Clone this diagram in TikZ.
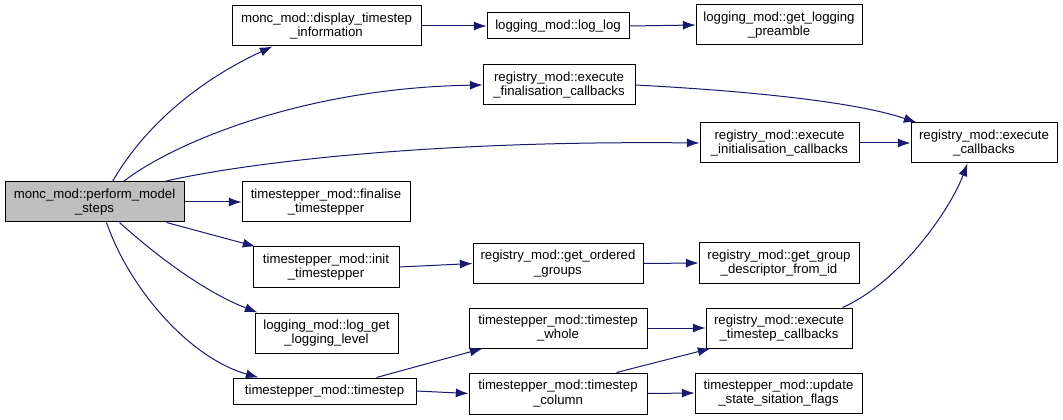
\documentclass[tikz,border=0pt]{standalone}
\usepackage{fontspec}
\setmainfont{Liberation Sans}
\usetikzlibrary{arrows.meta,calc}
\definecolor{edgeblue}{HTML}{191970}
\definecolor{boxgray}{HTML}{BFBFBF}
\tikzset{
  box/.style={draw=black, line width=0.75pt, fill=white, inner sep=0pt, align=center,
    font=\fontsize{9.9}{11}\selectfont},
  edge/.style={draw=edgeblue, line width=0.75pt, -{Latex[length=9.5pt,width=6.8pt]}}
}
\newcommand\bx[7][]{\node[box,#1, minimum width={(#4-#2)*0.75pt}, minimum height={(#5-#3)*0.75pt}] (#6) at ({(#2+#4)/2},{(#3+#5)/2}) {#7};}
\begin{document}
\begin{tikzpicture}[x=0.75pt,y=-0.75pt]
\useasboundingbox (0,0) rectangle (1063,420);
\bx[fill=boxgray]{5}{182}{184}{222}{A}{monc\_mod::perform\_model\\\_steps}
\bx{232}{6}{421}{46}{B}{monc\_mod::display\_timestep\\\_information}
\bx{487}{13}{629}{39}{C}{logging\_mod::log\_log}
\bx{696}{5}{862}{45}{D}{logging\_mod::get\_logging\\\_preamble}
\bx{483}{65}{635}{105}{E}{registry\_mod::execute\\\_finalisation\_callbacks}
\bx{700}{123}{859}{163}{F}{registry\_mod::execute\\\_initialisation\_callbacks}
\bx{911}{123}{1057}{163}{G}{registry\_mod::execute\\\_callbacks}
\bx{242}{182}{410}{222}{H}{timestepper\_mod::finalise\\\_timestepper}
\bx{253}{247}{399}{287}{I}{timestepper\_mod::init\\\_timestepper}
\bx{473}{244}{643}{283}{J}{registry\_mod::get\_ordered\\\_groups}
\bx{699}{243}{859}{283}{K}{registry\_mod::get\_group\\\_descriptor\_from\_id}
\bx{255}{313}{398}{353}{L}{logging\_mod::log\_get\\\_logging\_level}
\bx{233}{378}{416}{404}{M}{timestepper\_mod::timestep}
\bx{469}{308}{647}{348}{N}{timestepper\_mod::timestep\\\_whole}
\bx{469}{373}{647}{414}{O}{timestepper\_mod::timestep\\\_column}
\bx{706}{308}{852}{348}{P}{registry\_mod::execute\\\_timestep\_callbacks}
\bx{695}{373}{862}{413}{Q}{timestepper\_mod::update\\\_state\_sitation\_flags}
% edges from A
\draw[edge] ($(A.north west)+(108,0)$) .. controls (145,125) and (200,80) .. ($(B.south west)+(41,0)$);
\draw[edge] ($(A.north west)+(119,0)$) .. controls (170,145) and (300,88) .. (E.west);
\draw[edge] ($(A.north west)+(160,0)$) .. controls (220,168) and (400,140) .. (F.west);
\draw[edge] (A.east) -- (H.west);
\draw[edge] ($(A.south west)+(162,0)$) -- ($(I.north west)+(3,0)$);
\draw[edge] ($(A.south west)+(115,0)$) .. controls (150,250) and (200,290) .. ($(L.north west)+(3,0)$);
\draw[edge] ($(A.south west)+(102,0)$) .. controls (130,290) and (190,358) .. ($(M.north west)+(26,0)$);
% others
\draw[edge] (B.east) -- (C.west);
\draw[edge] (C.east) -- (D.west);
\draw[edge] (E.east) .. controls (730,90) and (850,100) .. ($(G.north west)+(6,0)$);
\draw[edge] (F.east) -- (G.west);
\draw[edge] (I.east) -- (J.west);
\draw[edge] (J.east) -- (K.west);
\draw[edge] ($(M.north west)+(144,0)$) -- ($(N.south west)+(14,0)$);
\draw[edge] (M.east) -- (O.west);
\draw[edge] (N.east) -- (P.west);
\draw[edge] ($(O.north west)+(148,0)$) -- ($(P.south west)+(5,0)$);
\draw[edge] (O.east) -- (Q.west);
\draw[edge] ($(P.north west)+(137,0)$) .. controls (900,282) and (950,210) .. ($(G.south west)+(57,0)$);
\end{tikzpicture}
\end{document}
